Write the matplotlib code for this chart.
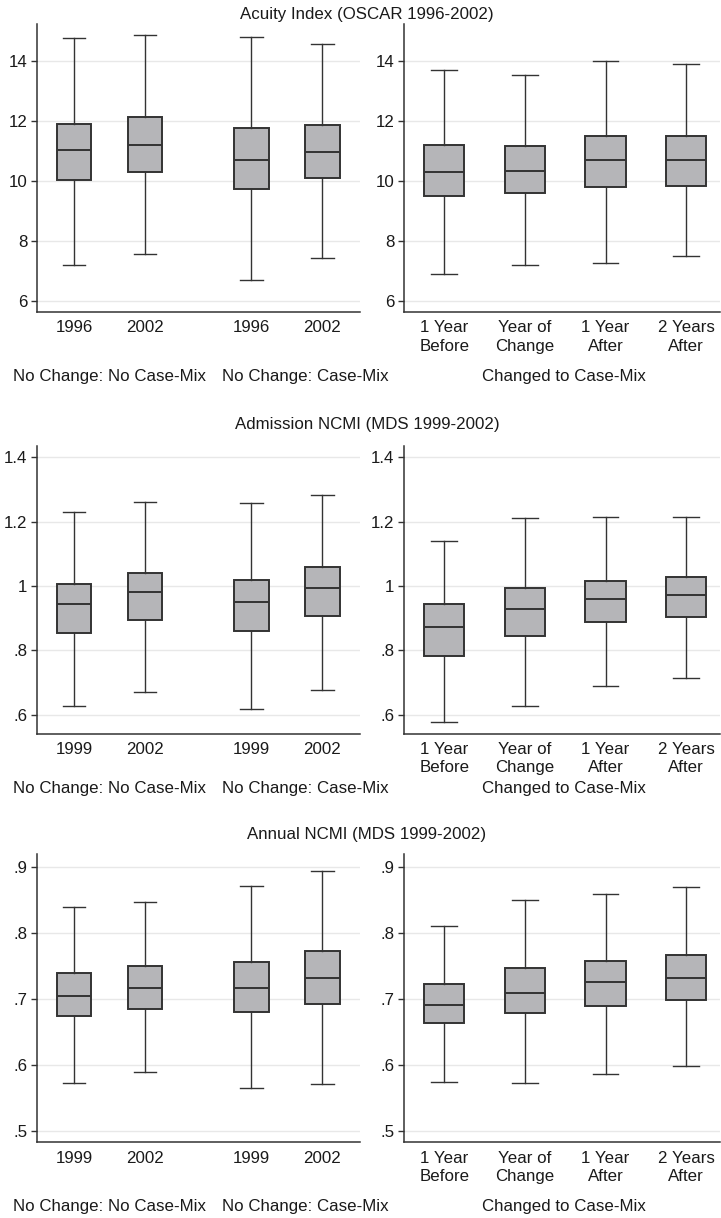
import matplotlib
matplotlib.use("Agg")
import matplotlib.pyplot as plt

plt.rcParams['font.family'] = ['Liberation Sans', 'DejaVu Sans']

W, H = 721, 1218
DPI = 100

# ---------------- data ----------------
titles = ["Acuity Index (OSCAR 1996-2002)",
          "Admission NCMI (MDS 1999-2002)",
          "Annual NCMI (MDS 1999-2002)"]

left_ticklabels = [["1996", "2002", "1996", "2002"],
                   ["1999", "2002", "1999", "2002"],
                   ["1999", "2002", "1999", "2002"]]
right_ticklabels = ["1 Year\nBefore", "Year of\nChange", "1 Year\nAfter", "2 Years\nAfter"]
left_groups = ["No Change: No Case-Mix", "No Change: Case-Mix"]
right_group = "Changed to Case-Mix"

# Acuity Index: whislo, q1, med, q3, whishi
acuity_left_lo = [7.18, 7.57, 6.68, 7.41]
acuity_left_q1 = [10.02, 10.30, 9.73, 10.09]
acuity_left_med = [11.02, 11.21, 10.70, 10.98]
acuity_left_q3 = [11.91, 12.12, 11.77, 11.87]
acuity_left_hi = [14.78, 14.87, 14.81, 14.57]
acuity_right_lo = [6.89, 7.20, 7.25, 7.48]
acuity_right_q1 = [9.48, 9.58, 9.79, 9.83]
acuity_right_med = [10.30, 10.32, 10.69, 10.69]
acuity_right_q3 = [11.20, 11.15, 11.50, 11.50]
acuity_right_hi = [13.72, 13.52, 14.00, 13.90]

# Admission NCMI
adm_left_lo = [0.626, 0.671, 0.617, 0.678]
adm_left_q1 = [0.853, 0.895, 0.859, 0.906]
adm_left_med = [0.944, 0.980, 0.951, 0.993]
adm_left_q3 = [1.005, 1.041, 1.018, 1.059]
adm_left_hi = [1.231, 1.260, 1.258, 1.284]
adm_right_lo = [0.577, 0.626, 0.690, 0.713]
adm_right_q1 = [0.783, 0.846, 0.887, 0.904]
adm_right_med = [0.872, 0.930, 0.960, 0.973]
adm_right_q3 = [0.945, 0.993, 1.017, 1.029]
adm_right_hi = [1.140, 1.210, 1.213, 1.214]

# Annual NCMI
ann_left_lo = [0.573, 0.590, 0.565, 0.571]
ann_left_q1 = [0.674, 0.685, 0.680, 0.692]
ann_left_med = [0.705, 0.716, 0.717, 0.732]
ann_left_q3 = [0.740, 0.750, 0.756, 0.772]
ann_left_hi = [0.839, 0.847, 0.871, 0.893]
ann_right_lo = [0.574, 0.573, 0.587, 0.599]
ann_right_q1 = [0.663, 0.678, 0.689, 0.698]
ann_right_med = [0.691, 0.709, 0.726, 0.731]
ann_right_q3 = [0.722, 0.747, 0.758, 0.766]
ann_right_hi = [0.810, 0.850, 0.859, 0.870]

yticks = [[6, 8, 10, 12, 14],
          [0.6, 0.8, 1.0, 1.2, 1.4],
          [0.5, 0.6, 0.7, 0.8, 0.9]]
ytick_labels = [["6", "8", "10", "12", "14"],
                [".6", ".8", "1", "1.2", "1.4"],
                [".5", ".6", ".7", ".8", ".9"]]
ylims = [(5.62, 15.24), (0.541, 1.436), (0.483, 0.919)]

left_sets = [
    (acuity_left_lo, acuity_left_q1, acuity_left_med, acuity_left_q3, acuity_left_hi),
    (adm_left_lo, adm_left_q1, adm_left_med, adm_left_q3, adm_left_hi),
    (ann_left_lo, ann_left_q1, ann_left_med, ann_left_q3, ann_left_hi),
]
right_sets = [
    (acuity_right_lo, acuity_right_q1, acuity_right_med, acuity_right_q3, acuity_right_hi),
    (adm_right_lo, adm_right_q1, adm_right_med, adm_right_q3, adm_right_hi),
    (ann_right_lo, ann_right_q1, ann_right_med, ann_right_q3, ann_right_hi),
]

left_pos = [1, 2, 3.5, 4.5]
right_pos = [1, 2, 3, 4]

# ---------------- layout ----------------
fig = plt.figure(figsize=(W / DPI, H / DPI), dpi=DPI)
fig.patch.set_facecolor("white")

def px_axes(x0, y0, x1, y1):
    return fig.add_axes([x0 / W, 1 - y1 / H, (x1 - x0) / W, (y1 - y0) / H])

row_tops = [24, 445.7, 854.3]
row_h = 288
title_y = [15, 424, 834]
group_y = [376, 789, 1206]

LINE = "#333333"
FILL = "#b5b5b8"
GRID = "#e8e8e8"
TXT = "#1a1a1a"
FS = 12.2

def make_stats(s):
    lo, q1, med, q3, hi = s
    return [dict(whislo=lo[i], q1=q1[i], med=med[i], q3=q3[i], whishi=hi[i], fliers=[])
            for i in range(len(lo))]

def style(ax, r):
    ax.set_ylim(*ylims[r])
    ax.set_yticks(yticks[r])
    ax.set_yticklabels(ytick_labels[r], fontsize=FS, color=TXT)
    ax.yaxis.grid(True, color=GRID, linewidth=1.0)
    ax.set_axisbelow(True)
    for s in ["top", "right"]:
        ax.spines[s].set_visible(False)
    for s in ["left", "bottom"]:
        ax.spines[s].set_color(LINE)
        ax.spines[s].set_linewidth(1.1)
    ax.tick_params(axis="y", length=4, width=1.0, color=LINE, pad=3)
    ax.tick_params(axis="x", length=0, pad=6, labelsize=FS, labelcolor=TXT)

def draw(ax, stats, pos, width):
    ax.bxp(stats, positions=pos, widths=width, patch_artist=True,
           showfliers=False, capwidths=[0.32] * len(pos),
           boxprops=dict(facecolor=FILL, edgecolor=LINE, linewidth=1.4),
           medianprops=dict(color=LINE, linewidth=1.4),
           whiskerprops=dict(color=LINE, linewidth=1.0),
           capprops=dict(color=LINE, linewidth=1.0),
           manage_ticks=False)

for r in range(3):
    top = row_tops[r]
    axL = px_axes(37, top, 360, top + row_h)
    axR = px_axes(404, top, 720, top + row_h)

    draw(axL, make_stats(left_sets[r]), left_pos, 0.49)
    draw(axR, make_stats(right_sets[r]), right_pos, 0.5)

    style(axL, r)
    style(axR, r)
    axL.set_xlim(0.48, 5.03)
    axR.set_xlim(0.5, 4.42)
    axL.set_xticks(left_pos)
    axL.set_xticklabels(left_ticklabels[r])
    axR.set_xticks(right_pos)
    axR.set_xticklabels(right_ticklabels, linespacing=1.27, va="top")

    fig.text(367 / W, 1 - title_y[r] / H, titles[r], ha="center", va="center",
             fontsize=FS, color=TXT)
    fig.text(110 / W, 1 - group_y[r] / H, left_groups[0], ha="center", va="center",
             fontsize=FS, color=TXT)
    fig.text(305 / W, 1 - group_y[r] / H, left_groups[1], ha="center", va="center",
             fontsize=FS, color=TXT)
    fig.text(564 / W, 1 - group_y[r] / H, right_group, ha="center", va="center",
             fontsize=FS, color=TXT)

fig.savefig("out.png", dpi=DPI, facecolor="white")
